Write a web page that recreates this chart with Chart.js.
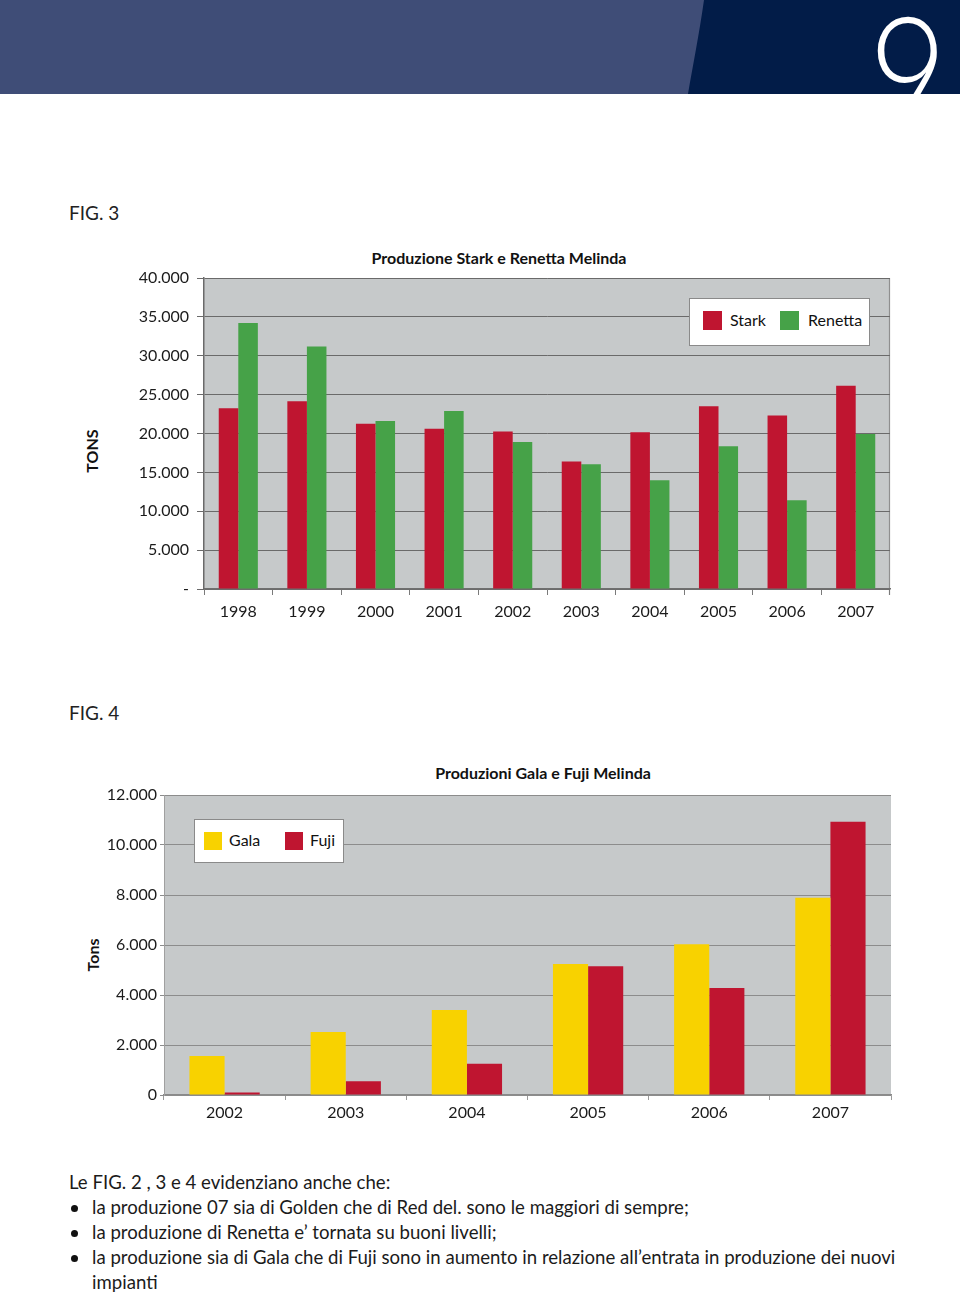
<!DOCTYPE html>
<html>
<head>
<meta charset="utf-8">
<script src="https://cdn.jsdelivr.net/npm/chart.js@4.4.1/dist/chart.umd.min.js"></script>
<style>
html,body{margin:0;padding:0;background:#fff;}
body{width:960px;height:1294px;position:relative;overflow:hidden;font-family:Lato,'Open Sans',sans-serif;color:#1b1b1b;}
.abs{position:absolute;}
.fig{font-size:19px;color:#222;}
.ctitle{font-weight:bold;font-size:16px;color:#111;white-space:nowrap;transform:translateX(-50%);}
.ytitle{font-weight:bold;font-size:16px;color:#111;white-space:nowrap;transform:translate(-50%,-50%) rotate(-90deg);}
.legend{background:#fff;border:1px solid #8a8a8a;box-sizing:border-box;}
.legend .sw{position:absolute;}
.legend .lt{position:absolute;font-size:16px;color:#111;line-height:20px;}
.body{left:69px;top:1170px;width:840px;font-size:18.6px;line-height:25px;letter-spacing:0;color:#1b1b1b;}
.body ul{margin:0;padding:0;list-style:none;}
.body li{position:relative;padding-left:23px;}
.body li:before{content:'';position:absolute;left:2px;top:10px;width:7px;height:7px;border-radius:50%;background:#111;}
</style>
</head>
<body>
<svg class="abs" style="left:0;top:0" width="960" height="94">
  <rect x="0" y="0" width="960" height="94" fill="#021c48"/>
  <path d="M0,0 H704 C699,35 693,65 688,94 H0 Z" fill="#3f4d77"/>
</svg>
<div class="abs" style="left:0;top:0;width:960px;height:94px;overflow:hidden;">
  <div class="abs" style="left:869px;top:-11px;font-size:160px;font-weight:300;color:#fff;line-height:1;transform:scaleX(0.84);transform-origin:left top;">9</div>
</div>

<div class="abs fig" style="left:69px;top:201px;">FIG. 3</div>
<div class="abs fig" style="left:69px;top:701px;">FIG. 4</div>

<div class="abs ctitle" style="left:499px;top:248px;">Produzione Stark e Renetta Melinda</div>
<div class="abs ytitle" style="left:91px;top:451px;">TONS</div>
<div class="abs" style="left:60px;top:240px;width:840px;height:400px;"><canvas id="c1" width="840" height="400"></canvas></div>
<div class="abs legend" id="leg1" style="left:689px;top:298px;width:181px;height:48px;"></div>

<div class="abs ctitle" style="left:543px;top:763px;">Produzioni Gala e Fuji Melinda</div>
<div class="abs ytitle" style="left:92px;top:955px;">Tons</div>
<div class="abs" style="left:60px;top:760px;width:840px;height:370px;"><canvas id="c2" width="840" height="370"></canvas></div>
<div class="abs legend" id="leg2" style="left:194px;top:819px;width:150px;height:44px;"></div>

<div class="abs body">
  <div>Le FIG. 2 , 3 e 4 evidenziano anche che:</div>
  <ul>
    <li>la produzione 07 sia di Golden che di Red del. sono le maggiori di sempre;</li>
    <li>la produzione di Renetta e’ tornata su buoni livelli;</li>
    <li>la produzione sia di Gala che di Fuji sono in aumento in relazione all’entrata in produzione dei nuovi impianti</li>
  </ul>
</div>

<script>
// ---- data ----
const years1 = ['1998','1999','2000','2001','2002','2003','2004','2005','2006','2007'];
const stark = [23250, 24150, 21250, 20600, 20250, 16400, 20150, 23500, 22300, 26150];
const renetta = [34200, 31200, 21600, 22900, 18900, 16050, 14000, 18350, 11400, 19950];

const years2 = ['2002','2003','2004','2005','2006','2007'];
const gala = [1560, 2520, 3400, 5240, 6030, 7890];
const fuji = [100, 550, 1250, 5150, 4280, 10930];

const RED = '#bf1530', GREEN = '#46a248', YELLOW = '#f8d200';
const PLOT_BG = '#c6c9ca';

function fmt(v){ return String(v).replace(/\B(?=(\d{3})+(?!\d))/g,'.'); }

const plotBg = {
  id:'plotBg',
  beforeDraw(chart, args, opts){
    const {ctx, chartArea:{left,top,right,bottom}} = chart;
    ctx.save();
    ctx.fillStyle = opts.color;
    ctx.fillRect(left, top, right-left, bottom-top);
    if (opts.rightBorder){
      ctx.strokeStyle = opts.rightBorder; ctx.lineWidth = 1.2;
      ctx.beginPath(); ctx.moveTo(right-0.5, top); ctx.lineTo(right-0.5, bottom+6); ctx.stroke();
    }
    ctx.restore();
  }
};

Chart.defaults.font.family = "Lato, 'Open Sans', sans-serif";
Chart.defaults.color = '#1b1b1b';
Chart.defaults.animation = false;

function buildLegend(el, chart, cfg){
  chart.data.datasets.forEach((ds, i) => {
    const sw = document.createElement('div');
    sw.className = 'sw';
    sw.style.cssText = `left:${cfg.sx[i]}px;top:${cfg.sy}px;width:${cfg.s}px;height:${cfg.s}px;background:${ds.backgroundColor};`;
    const t = document.createElement('div');
    t.className = 'lt';
    t.style.cssText = `left:${cfg.tx[i]}px;top:${cfg.ty}px;`;
    t.textContent = ds.label;
    el.appendChild(sw); el.appendChild(t);
  });
}

const c1 = new Chart(document.getElementById('c1'), {
  type:'bar',
  data:{ labels: years1, datasets:[
    {label:'Stark', data: stark, backgroundColor: RED, categoryPercentage:0.57, barPercentage:1.0},
    {label:'Renetta', data: renetta, backgroundColor: GREEN, categoryPercentage:0.57, barPercentage:1.0}
  ]},
  options:{
    responsive:false,
    layout:{padding:{top:38, right:10, left:0, bottom:0}},
    plugins:{legend:{display:false}, tooltip:{enabled:false}, plotBg:{color:PLOT_BG, rightBorder:'#8f8f8f'}},
    scales:{
      x:{
        grid:{drawOnChartArea:false, drawTicks:true, tickLength:6, color:'#7a7a7a', offset:true},
        border:{display:true, color:'#6f6f6f', width:1.5},
        ticks:{font:{size:16}, padding:7, color:'#1b1b1b'},
        afterFit(s){ s.height = 51; }
      },
      y:{
        min:0, max:40000,
        grid:{color:'#6a6a6a', lineWidth:1, tickLength:7, drawTicks:true},
        border:{display:true, color:'#6a6a6a', width:1.5},
        ticks:{stepSize:5000, font:{size:16}, padding:8, color:'#1b1b1b', callback:v => v===0 ? '-' : fmt(v)},
        afterFit(s){ s.width = 144; }
      }
    }
  },
  plugins:[plotBg]
});
buildLegend(document.getElementById('leg1'), c1, {sx:[13,90], sy:12, s:19, tx:[40,118], ty:11});

const c2 = new Chart(document.getElementById('c2'), {
  type:'bar',
  data:{ labels: years2, datasets:[
    {label:'Gala', data: gala, backgroundColor: YELLOW, categoryPercentage:0.58, barPercentage:1.0},
    {label:'Fuji', data: fuji, backgroundColor: RED, categoryPercentage:0.58, barPercentage:1.0}
  ]},
  options:{
    responsive:false,
    layout:{padding:{top:35, right:9, left:0, bottom:0}},
    plugins:{legend:{display:false}, tooltip:{enabled:false}, plotBg:{color:PLOT_BG}},
    scales:{
      x:{
        grid:{drawOnChartArea:false, drawTicks:true, tickLength:5, color:'#9a9a9a', offset:true},
        border:{display:true, color:'#8a8a8a', width:1.2},
        ticks:{font:{size:16}, padding:3, color:'#1b1b1b'},
        afterFit(s){ s.height = 35; }
      },
      y:{
        min:0, max:12000,
        grid:{color:'#8c8c8c', lineWidth:1, tickLength:4, drawTicks:true},
        border:{display:true, color:'#a0a0a0', width:1},
        ticks:{stepSize:2000, font:{size:16}, padding:3, color:'#1b1b1b', callback:v => fmt(v)},
        afterFit(s){ s.width = 104; }
      }
    }
  },
  plugins:[plotBg]
});
buildLegend(document.getElementById('leg2'), c2, {sx:[9,90], sy:12, s:18, tx:[34,115], ty:10});
</script>
</body>
</html>
